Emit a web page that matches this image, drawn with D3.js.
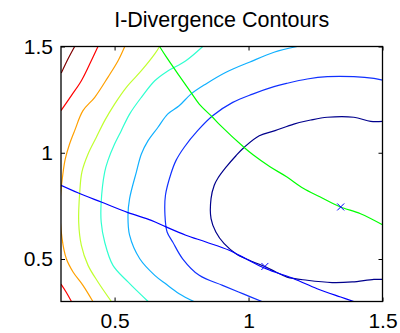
<!DOCTYPE html>
<html>
<head>
<meta charset="utf-8">
<script src="https://cdn.jsdelivr.net/npm/d3@7/dist/d3.min.js"></script>
<style>
  body { margin: 0; background: #fff; }
  svg text { font-family: "Liberation Sans", Arial, sans-serif; fill: #000; }
</style>
</head>
<body>
<div id="chart"></div>
<script>
// axis setup
const xDomain = [0.3, 1.5];
const yDomain = [0.3, 1.5];
const xTicks = [0.5, 1, 1.5];
const yTicks = [0.5, 1, 1.5];
const titleText = 'I-Divergence Contours';

// contour lines as [x, y] pairs (innermost level first)
const levelNavy = [[1.5,1.148],[1.456,1.148],[1.393,1.167],[1.294,1.167],[1.232,1.154],[1.169,1.135],[1.099,1.104],[1.040,1.080],[0.984,1.026],[0.953,0.986],[0.916,0.932],[0.886,0.881],[0.872,0.847],[0.860,0.784],[0.860,0.690],[0.878,0.627],[0.909,0.572],[0.953,0.525],[1.003,0.494],[1.065,0.462],[1.102,0.439],[1.144,0.415],[1.219,0.400],[1.312,0.389],[1.387,0.392],[1.468,0.404],[1.5,0.404]];
const levelBlue = [[1.5,1.342],[1.468,1.350],[1.393,1.358],[1.294,1.358],[1.219,1.347],[1.144,1.327],[1.095,1.311],[1.015,1.276],[0.941,1.237],[0.866,1.174],[0.810,1.104],[0.760,1.026],[0.729,0.963],[0.710,0.900],[0.690,0.801],[0.688,0.707],[0.696,0.627],[0.717,0.580],[0.754,0.501],[0.816,0.423],[0.903,0.376],[0.978,0.337],[1.050,0.3]];
const levelSky = [[1.182,1.5],[1.095,1.473],[1.003,1.426],[0.916,1.379],[0.841,1.324],[0.785,1.276],[0.741,1.221],[0.698,1.182],[0.662,1.120],[0.625,1.057],[0.600,0.994],[0.581,0.908],[0.556,0.784],[0.550,0.706],[0.556,0.612],[0.594,0.501],[0.650,0.423],[0.692,0.382],[0.741,0.337],[0.796,0.3]];
const levelAqua = [[0.829,1.5],[0.766,1.433],[0.693,1.380],[0.650,1.339],[0.600,1.261],[0.556,1.182],[0.525,1.104],[0.500,1.041],[0.475,0.963],[0.463,0.909],[0.450,0.768],[0.450,0.674],[0.463,0.580],[0.494,0.470],[0.550,0.392],[0.625,0.3]];
const levelLime = [[0.668,1.5],[0.650,1.465],[0.600,1.386],[0.544,1.308],[0.500,1.229],[0.463,1.151],[0.432,1.073],[0.401,0.994],[0.378,0.909],[0.370,0.815],[0.366,0.674],[0.376,0.564],[0.401,0.470],[0.438,0.392],[0.488,0.3]];
const levelOrange = [[0.538,1.5],[0.513,1.433],[0.475,1.355],[0.426,1.261],[0.382,1.198],[0.351,1.104],[0.332,1.041],[0.316,0.971],[0.307,0.900],[0.296,0.749],[0.304,0.596],[0.320,0.501],[0.345,0.439],[0.382,0.376],[0.419,0.3]];
const levelRedTop = [[0.438,1.5],[0.413,1.433],[0.376,1.339],[0.338,1.268],[0.300,1.198]];
const levelRedBottom = [[0.300,0.382],[0.319,0.345],[0.339,0.3]];
const levelDarkRed = [[0.351,1.5],[0.326,1.441],[0.301,1.375]];

// the two constraint curves and the two marked points
const blueLine = [[0.300,0.847],[0.363,0.812],[0.450,0.768],[0.550,0.718],[0.637,0.682],[0.692,0.651],[0.766,0.612],[0.841,0.580],[0.928,0.541],[0.990,0.501],[1.065,0.454],[1.169,0.407],[1.256,0.360],[1.344,0.321],[1.393,0.3]];
const greenLine = [[0.668,1.5],[0.693,1.451],[0.741,1.363],[0.785,1.284],[0.816,1.229],[0.866,1.167],[0.893,1.131],[0.987,1.021],[1.018,0.989],[1.080,0.934],[1.142,0.887],[1.204,0.833],[1.266,0.793],[1.341,0.746],[1.418,0.713],[1.5,0.661]];
const markX = [1.344, 1.061];
const markY = [0.745, 0.465];

const margin = {top: 46.5, right: 17.5, bottom: 31.5, left: 61};
const width = 400 - margin.left - margin.right;
const height = 333 - margin.top - margin.bottom;

const xScale = d3.scaleLinear().domain(xDomain).range([0, width]);
const yScale = d3.scaleLinear().domain(yDomain).range([height, 0]);

const svg = d3.select('#chart')
    .append('svg')
    .attr('width', 400)
    .attr('height', 333)
    .style('background', 'white');

const chrt = svg.append('g')
    .attr('transform', 'translate(' + margin.left + ',' + margin.top + ')');

chrt.append('clipPath')
    .attr('id', 'plotClip')
    .append('rect')
    .attr('width', width)
    .attr('height', height);

const line = d3.line()
    .curve(d3.curveCatmullRom.alpha(0.5))
    .x((d) => xScale(d[0]))
    .y((d) => yScale(d[1]));

const curves = [
  {pts: levelDarkRed, color: '#800000'},
  {pts: levelRedTop, color: '#ff0000'},
  {pts: levelRedBottom, color: '#ff0000'},
  {pts: levelOrange, color: '#ffa000'},
  {pts: levelLime, color: '#c0ff30'},
  {pts: levelAqua, color: '#30ffd0'},
  {pts: levelSky, color: '#10b0ff'},
  {pts: levelBlue, color: '#1030ff'},
  {pts: levelNavy, color: '#00008c'},
  {pts: blueLine, color: '#0000ff'},
  {pts: greenLine, color: '#00ff00'}
];

const plot = chrt.append('g').attr('clip-path', 'url(#plotClip)');

plot.selectAll('.level')
    .data(curves)
    .enter()
    .append('path')
    .attr('class', 'level')
    .attr('fill', 'none')
    .attr('stroke', (d) => d.color)
    .attr('stroke-width', 1.2)
    .attr('d', (d) => line(d.pts));

// x markers
const marks = markX.map((x, i) => ({x: x, y: markY[i]}));
plot.selectAll('.mark')
    .data(marks)
    .enter()
    .append('path')
    .attr('class', 'mark')
    .attr('fill', 'none')
    .attr('stroke', '#0000ff')
    .attr('stroke-width', 1)
    .attr('d', (d) => {
      const cx = xScale(d.x), cy = yScale(d.y), s = 3.5;
      return 'M' + (cx - s) + ',' + (cy - s) + 'L' + (cx + s) + ',' + (cy + s) +
        'M' + (cx - s) + ',' + (cy + s) + 'L' + (cx + s) + ',' + (cy - s);
    });

// axes, ticks point inwards like matlab
const fmt = (d) => d3.format('~g')(d);
const xAxis = chrt.append('g')
    .attr('transform', 'translate(0,' + height + ')')
    .call(d3.axisBottom(xScale).tickValues(xTicks).tickSize(-4).tickPadding(11.5).tickFormat(fmt));
const yAxis = chrt.append('g')
    .call(d3.axisLeft(yScale).tickValues(yTicks).tickSize(-4).tickPadding(8).tickFormat(fmt));
chrt.append('g')
    .call(d3.axisTop(xScale).tickValues(xTicks).tickSize(-4).tickFormat(''));
chrt.append('g')
    .attr('transform', 'translate(' + width + ',0)')
    .call(d3.axisRight(yScale).tickValues(yTicks).tickSize(-4).tickFormat(''));

chrt.selectAll('.domain').remove();
chrt.selectAll('.tick line').attr('stroke', '#000');
xAxis.selectAll('text').style('font-size', '21px').attr('dy', '0.71em');
yAxis.selectAll('text').style('font-size', '21px');

chrt.append('rect')
    .attr('width', width)
    .attr('height', height)
    .attr('fill', 'none')
    .attr('stroke', '#000')
    .attr('stroke-width', 1.3);

// title
svg.append('text')
    .attr('x', margin.left + width / 2)
    .attr('y', 27)
    .attr('text-anchor', 'middle')
    .style('font-size', '21.5px')
    .text(titleText);
</script>
</body>
</html>
